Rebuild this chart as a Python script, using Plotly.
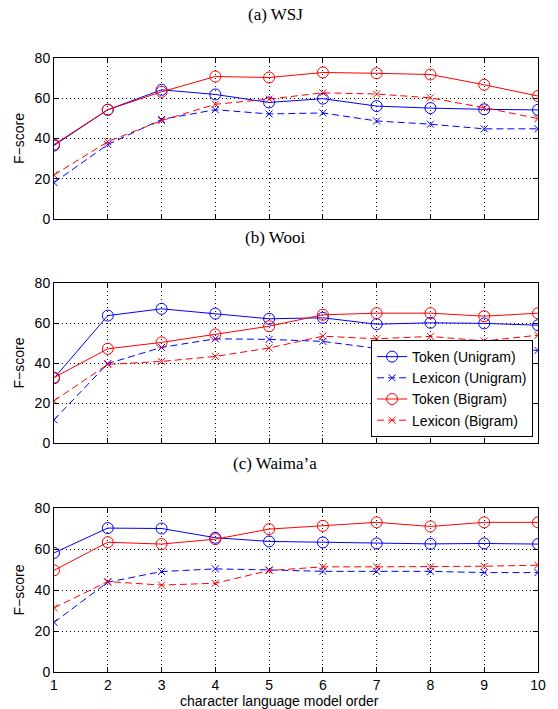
import plotly.graph_objects as go

orders = [1, 2, 3, 4, 5, 6, 7, 8, 9, 10]
y_ticks = [0, 20, 40, 60, 80]

panel_titles = ["(a) WSJ", "(b) Wooi", "(c) Waima\u2019a"]
series_names = ["Token (Unigram)", "Lexicon (Unigram)", "Token (Bigram)", "Lexicon (Bigram)"]

# WSJ
wsj_token_uni = [36.5, 54.3, 64.2, 61.9, 57.9, 59.8, 56.1, 55.1, 54.5, 54.2]
wsj_lex_uni = [18.1, 37.0, 49.5, 54.3, 52.2, 52.7, 48.7, 47.1, 44.8, 44.8]
wsj_token_bi = [37.0, 54.3, 63.2, 70.8, 70.3, 72.8, 72.4, 71.8, 66.7, 61.1]
wsj_lex_bi = [21.9, 38.4, 48.9, 57.0, 59.6, 62.7, 62.1, 60.2, 55.3, 49.9]

# Wooi
wooi_token_uni = [32.4, 63.7, 67.1, 64.7, 62.1, 62.6, 59.4, 60.1, 59.8, 58.9]
wooi_lex_uni = [11.6, 39.7, 47.8, 52.1, 51.8, 50.8, 47.3, 47.8, 47.5, 46.3]
wooi_token_bi = [32.7, 47.1, 50.3, 54.3, 58.4, 64.1, 64.9, 64.9, 63.4, 64.9]
wooi_lex_bi = [21.1, 39.3, 40.8, 43.3, 47.5, 53.4, 52.1, 53.3, 51.0, 53.9]

# Waima'a
waima_token_uni = [58.1, 70.2, 70.0, 65.5, 63.7, 63.2, 62.7, 62.5, 62.7, 62.4]
waima_lex_uni = [24.2, 43.8, 49.0, 50.3, 49.8, 49.1, 49.1, 49.1, 48.5, 48.5]
waima_token_bi = [49.6, 63.3, 62.4, 64.8, 69.7, 71.3, 73.0, 71.0, 73.0, 73.0]
waima_lex_bi = [31.3, 44.1, 42.4, 43.3, 49.5, 51.3, 51.3, 51.3, 51.6, 52.1]

panels = [
    [wsj_token_uni, wsj_lex_uni, wsj_token_bi, wsj_lex_bi],
    [wooi_token_uni, wooi_lex_uni, wooi_token_bi, wooi_lex_bi],
    [waima_token_uni, waima_lex_uni, waima_token_bi, waima_lex_bi],
]

BLUE = "#0000ff"
RED = "#ff0000"
styles = [
    dict(color=BLUE, dash="solid", symbol="circle-open", size=11),
    dict(color=BLUE, dash="7px,4px", symbol="x-thin-open", size=7),
    dict(color=RED, dash="solid", symbol="circle-open", size=11),
    dict(color=RED, dash="7px,4px", symbol="x-thin-open", size=7),
]

# figure geometry in page pixels (body margin removed by post_script)
W, H = 558, 709
left_px, right_px = 54, 546
top_px, bottom_px = 58, 672
L, T = left_px, top_px
R = W - right_px
B = H - bottom_px
ph = H - T - B
pw = W - L - R
tops = [58, 283, 508]
bottoms = [219, 443, 672]
title_y = [15, 237, 463]


def py2paper(py):
    return (bottom_px - py) / ph


def px2paper(px):
    return (px - left_px) / pw


fig = go.Figure()
sans = "Liberation Sans, Arial, Helvetica, sans-serif"

for i, data in enumerate(panels):
    xa = "x" if i == 0 else f"x{i+1}"
    ya = "y" if i == 0 else f"y{i+1}"
    for j, vals in enumerate(data):
        s = styles[j]
        fig.add_trace(go.Scatter(
            x=orders, y=vals, mode="lines+markers",
            name=series_names[j], showlegend=(i == 0),
            line=dict(color=s["color"], width=1, dash=s["dash"]),
            marker=dict(symbol=s["symbol"], size=s["size"], color=s["color"],
                        line=dict(color=s["color"], width=1)),
            xaxis=xa, yaxis=ya,
        ))

axis_common = dict(
    showline=True, linecolor="black", linewidth=1, mirror="ticks",
    ticks="inside", ticklen=5, tickcolor="black", tickwidth=1,
    showgrid=True, gridcolor="black", gridwidth=0.6, griddash="1px,3px",
    zeroline=False, tickfont=dict(family=sans, size=14, color="black"),
    ticklabeloverflow="allow",
)

layout = dict(
    width=W, height=H, margin=dict(l=L, r=R, t=T, b=B),
    plot_bgcolor="white", paper_bgcolor="white",
    font=dict(family=sans, size=14, color="black"),
    legend=dict(
        x=px2paper(541), xanchor="right",
        y=py2paper(437), yanchor="bottom",
        bgcolor="white", bordercolor="black", borderwidth=1,
        font=dict(family=sans, size=14, color="black"),
        tracegroupgap=0,
    ),
)

for i in range(3):
    xk = "xaxis" if i == 0 else f"xaxis{i+1}"
    yk = "yaxis" if i == 0 else f"yaxis{i+1}"
    ya = "y" if i == 0 else f"y{i+1}"
    xa = "x" if i == 0 else f"x{i+1}"
    xaxis = dict(axis_common, domain=[0, 1], range=[1, 10], tickvals=orders,
                 anchor=ya, showticklabels=(i == 2))
    yaxis = dict(axis_common, domain=[py2paper(bottoms[i]), py2paper(tops[i])],
                 range=[0, 80], tickvals=y_ticks, anchor=xa,
                 title=dict(text="F\u2212score", font=dict(family=sans, size=14),
                            standoff=6))
    layout[xk] = xaxis
    layout[yk] = yaxis

annotations = []
for i, t in enumerate(panel_titles):
    annotations.append(dict(
        text=t, xref="paper", yref="paper",
        x=px2paper(279), y=py2paper(title_y[i]),
        xanchor="center", yanchor="middle", showarrow=False,
        font=dict(family="Liberation Serif, Times New Roman, serif", size=17, color="black"),
    ))
# x-axis title, sitting on the bottom edge as in the reference
annotations.append(dict(
    text="character language model order", xref="paper", yref="paper",
    x=px2paper(283), y=py2paper(701), xanchor="center", yanchor="middle",
    showarrow=False, font=dict(family=sans, size=14, color="black"),
))
layout["annotations"] = annotations

fig.update_layout(**layout)
fig.write_html(
    "out.html",
    config=dict(displayModeBar=False),
    post_script="document.body.style.margin='0';",
)
